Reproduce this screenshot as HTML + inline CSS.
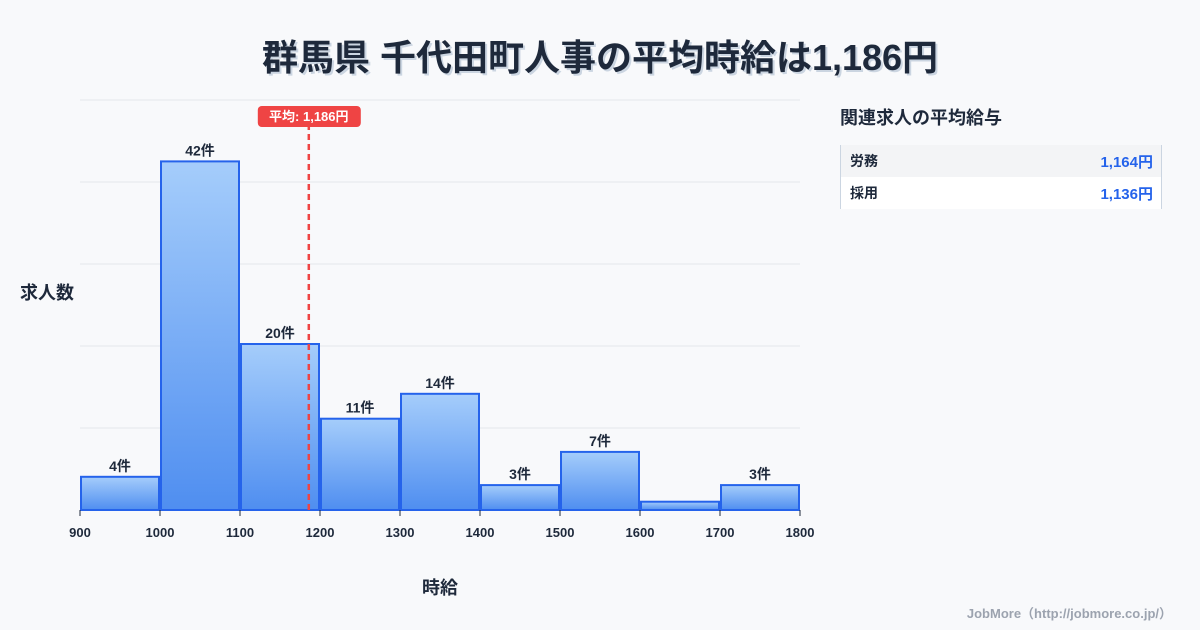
<!DOCTYPE html>
<html><head><meta charset="utf-8">
<style>
body{margin:0;width:1200px;height:630px;background:#f8f9fb;font-family:"Liberation Sans","Noto Sans CJK JP",sans-serif;overflow:hidden;position:relative}
.t{position:absolute;left:0;width:1200px;top:29px;text-align:center;font-size:36px;font-weight:bold;color:#1e293b;text-shadow:2px 2px 0 #cbd5e1}
svg text{font-family:"Liberation Sans","Noto Sans CJK JP",sans-serif}
.side{position:absolute;left:840px;top:104px;font-size:18px;font-weight:bold;color:#1e293b}
.tbl{position:absolute;left:840px;top:145px;width:320px;border-left:1px solid #cbd5e1;border-right:1px solid #cbd5e1;font-size:14px;font-weight:bold}
.row{height:32px;display:flex;justify-content:space-between;align-items:center;padding:0 8px 0 9px;color:#1e293b}
.row span:last-child{color:#2563eb;font-size:15px}
.foot{position:absolute;right:28px;top:603px;font-size:13px;color:#9ca3af;font-weight:bold}
</style></head><body>
<div class="t">群馬県 千代田町人事の平均時給は1,186円</div>
<svg id="c" width="1200" height="630" style="position:absolute;left:0;top:0">
<defs><linearGradient id="g" x1="0" y1="0" x2="0" y2="1"><stop offset="0" stop-color="#a5cdfb"/><stop offset="1" stop-color="#4f8ef0"/></linearGradient></defs>
</svg>
<div class="side">関連求人の平均給与</div>
<div class="tbl">
<div class="row" style="background:#f3f4f6"><span>労務</span><span>1,164円</span></div>
<div class="row" style="background:#fff"><span>採用</span><span>1,136円</span></div>
</div>
<div class="foot">JobMore（http://jobmore.co.jp/）</div>
<script>
const binStarts=[900,1000,1100,1200,1300,1400,1500,1600,1700];
const counts=[4,42,20,11,14,3,7,1,3];
const labels=["4件","42件","20件","11件","14件","3件","7件","","3件"];
const xTicks=[900,1000,1100,1200,1300,1400,1500,1600,1700,1800];
const avg=1186;
const NS="http://www.w3.org/2000/svg",svg=document.getElementById('c');
const x=v=>80+(v-900)*0.8, y=v=>510-v*8.3;
function el(t,a){const e=document.createElementNS(NS,t);for(const k in a)e.setAttribute(k,a[k]);svg.appendChild(e);return e;}
for(let i=0;i<6;i++){const g=el('line',{x1:80,x2:800,y1:100+82*i,y2:100+82*i,stroke:'#e5e7eb'});

}
binStarts.forEach((b,i)=>{
const r=el('rect',{x:x(b)+1,y:y(counts[i]),width:78,height:510-y(counts[i]),fill:'url(#g)',stroke:'#2563eb','stroke-width':2});


if(labels[i]){const t=el('text',{x:x(b)+40,y:y(counts[i])-6,'text-anchor':'middle','font-size':14,'font-weight':'bold',fill:'#1e293b'});t.textContent=labels[i];

}
});
xTicks.forEach(v=>{
const l=el('line',{x1:x(v),x2:x(v),y1:510,y2:516,stroke:'#1e293b'});


const t=el('text',{x:x(v),y:537,'text-anchor':'middle','font-size':13,'font-weight':'bold',fill:'#1e293b'});t.textContent=v;


});
const al=el('line',{x1:x(avg),x2:x(avg),y1:124,y2:510,stroke:'#ef4444','stroke-width':2.5,'stroke-dasharray':'6,4'});


const ab=el('rect',{x:x(avg)-51,y:106,width:103,height:21,rx:4,fill:'#ef4444'});


const at=el('text',{x:x(avg),y:121,'text-anchor':'middle','font-size':13,'font-weight':'bold',fill:'#fff'});at.textContent='平均: 1,186円';


const yt=el('text',{x:20,y:299,'font-size':18,'font-weight':'bold',fill:'#1e293b'});yt.textContent='求人数';


const xt=el('text',{x:440,y:594,'text-anchor':'middle','font-size':18,'font-weight':'bold',fill:'#1e293b'});xt.textContent='時給';


</script>
</body></html>
